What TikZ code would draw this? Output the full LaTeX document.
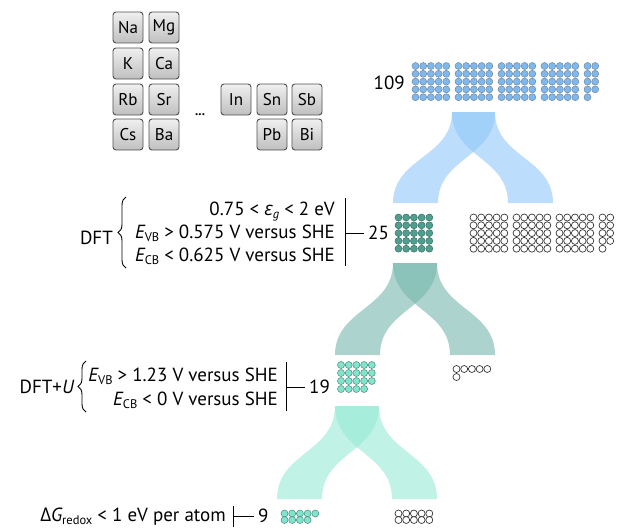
\documentclass[tikz,border=0pt]{standalone}
\usepackage{fontspec}
\setmainfont{PT Sans}
\newfontfamily\grk{Open Sans}
\usetikzlibrary{calc,decorations.pathreplacing}

% colours
\definecolor{tileedge}{RGB}{80,80,80}
\definecolor{bluedotfill}{RGB}{125,185,238}
\definecolor{bluedotedge}{RGB}{115,135,158}
\definecolor{tealdotfill}{RGB}{80,158,142}
\definecolor{tealdotedge}{RGB}{55,115,103}
\definecolor{mintdotfill}{RGB}{130,228,204}
\definecolor{mintdotedge}{RGB}{70,140,125}
\definecolor{hollowedge}{RGB}{55,55,55}
\definecolor{blueband}{RGB}{143,199,248}
\definecolor{tealband}{RGB}{117,182,172}
\definecolor{mintband}{RGB}{150,233,213}

% a subscript in small upright type
\newcommand\lowsub[1]{\raisebox{-0.35ex}{\fontsize{12.5}{12.5}\selectfont #1}}

% blocks of 5x5 dots, filled column by column
% #1 x of first centre, #2 y of first centre, #3 count, #4 style
\newcommand\dotblocks[4]{%
  \pgfmathtruncatemacro\lastdot{#3-1}%
  \foreach \i in {0,...,\lastdot}{%
    \pgfmathtruncatemacro\blk{int(\i/25)}%
    \pgfmathtruncatemacro\rem{mod(\i,25)}%
    \pgfmathtruncatemacro\col{int(\rem/5)}%
    \pgfmathtruncatemacro\row{mod(\rem,5)}%
    \path[#4] (#1+\blk*43+\col*7.7, #2+\row*7.8) circle (3.5pt);
  }}
% rows of five dots, filled row by row
% #1 x, #2 y of first centre, #3 count, #4 style, #5 row pitch
\newcommand\dotrows[5]{%
  \pgfmathtruncatemacro\lastdot{#3-1}%
  \foreach \i in {0,...,\lastdot}{%
    \pgfmathtruncatemacro\col{mod(\i,5)}%
    \pgfmathtruncatemacro\row{int(\i/5)}%
    \path[#4] (#1+\col*7.7, #2+\row*#5) circle (3.5pt);
  }}
% one ribbon: #1 style, #2 top y, #3 #4 top x range, #5 bottom y, #6 #7 bottom x range
\newcommand\ribbon[7]{%
  \pgfmathsetmacro\ymid{(#2+#5)/2}%
  \fill[#1] (#3,#2) .. controls (#3,\ymid) and (#6,\ymid) .. (#6,#5)
     -- (#7,#5) .. controls (#7,\ymid) and (#4,\ymid) .. (#4,#2) -- cycle;}

\begin{document}
\begin{tikzpicture}[x=1pt,y=-1pt,
  tile/.style={draw=tileedge, line width=0.9pt, rounded corners=3pt,
    top color=gray!12, bottom color=gray!50, minimum width=30pt,
    minimum height=31pt, inner sep=0pt, font=\fontsize{17}{17}\selectfont},
  lbl/.style={inner sep=0pt, font=\fontsize{19}{22}\selectfont},
  num/.style={inner sep=0pt, anchor=west, font=\fontsize{19}{22}\selectfont},
  rule/.style={line width=0.8pt, black},
  curly/.style={decorate, decoration={brace, amplitude=8pt}, line width=0.9pt},
  bluedot/.style={fill=bluedotfill, draw=bluedotedge, line width=0.5pt},
  tealdot/.style={fill=tealdotfill, draw=tealdotedge, line width=0.5pt},
  mintdot/.style={fill=mintdotfill, draw=mintdotedge, line width=0.5pt},
  hollowdot/.style={fill=white, draw=hollowedge, line width=0.7pt},
  ribbonblue/.style={fill=blueband, fill opacity=0.6},
  ribbonteal/.style={fill=tealband, fill opacity=0.6},
  ribbonmint/.style={fill=mintband, fill opacity=0.6},
]
\useasboundingbox (0,0) rectangle (617,527);

% element tiles
\node[tile] (Na) at (128,27.5)  {Na};
\node[tile] (Mg) at (164,27.5)  {Mg};
\node[tile] (K)  at (128,63.5)  {K};
\node[tile] (Ca) at (164,63.5)  {Ca};
\node[tile] (Rb) at (128,99.5)  {Rb};
\node[tile] (Sr) at (164,99.5)  {Sr};
\node[tile] (Cs) at (128,134.5) {Cs};
\node[tile] (Ba) at (164,134.5) {Ba};
\node[tile] (In) at (236,99.5)  {In};
\node[tile] (Sn) at (272,99.5)  {Sn};
\node[tile] (Sb) at (307,99.5)  {Sb};
\node[tile] (Pb) at (272,134.5) {Pb};
\node[tile] (Bi) at (307,134.5) {Bi};
\node[inner sep=0pt, font=\fontsize{13}{13}\selectfont\bfseries] (ell) at (200,115) {...};

% ribbons
\ribbon{ribbonblue}{112}{452}{495}{203}{393}{438}
\ribbon{ribbonblue}{112}{452}{495}{203}{508}{553}
\ribbon{ribbonteal}{263}{393}{437}{355}{335}{380}
\ribbon{ribbonteal}{263}{393}{437}{355}{450}{495}
\ribbon{ribbonmint}{406}{335}{379}{499}{277}{322}
\ribbon{ribbonmint}{406}{335}{379}{499}{392}{437}

% 109 candidates
\node[num, anchor=east] (n109) at (405,83) {109};
\dotblocks{415.5}{66}{109}{bluedot}

% DFT screening
\node[lbl, anchor=base east] (c1) at (335,215) {0.75 < {\grk\itshape ε}\lowsub{\itshape g} < 2 eV};
\node[lbl, anchor=base east] (c2) at (335,238) {{\itshape E}\lowsub{VB} > 0.575 V versus SHE};
\node[lbl, anchor=base east] (c3) at (335,261) {{\itshape E}\lowsub{CB} < 0.625 V versus SHE};
\coordinate (br1b) at (126,268);
\coordinate (br1t) at (126,197);
\draw[curly] (br1b) -- (br1t);
\node[lbl, anchor=east] (dft) at (113,238) {DFT};
\coordinate (b1t) at (345,198);
\coordinate (b1b) at (345,266);
\coordinate (b1m) at (345,233);
\draw[rule] (b1t) -- (b1b);
\node[num] (n25) at (368,233) {25};
\draw[rule] (b1m) -- ([xshift=-4pt]n25.west);
\dotblocks{398.5}{217.5}{25}{tealdot}
\dotblocks{473.5}{217.5}{84}{hollowdot}

% DFT+U screening
\node[lbl, anchor=base east] (d1) at (278,381) {{\itshape E}\lowsub{VB} > 1.23 V versus SHE};
\node[lbl, anchor=base east] (d2) at (278,405) {{\itshape E}\lowsub{CB} < 0 V versus SHE};
\coordinate (br2b) at (86,412);
\coordinate (br2t) at (86,361);
\draw[curly] (br2b) -- (br2t);
\node[lbl, anchor=east] (dftu) at (74,387) {DFT+{\itshape U}};
\coordinate (b2t) at (286,362);
\coordinate (b2b) at (286,411);
\coordinate (b2m) at (286,387);
\draw[rule] (b2t) -- (b2b);
\node[num] (n19) at (309,387) {19};
\draw[rule] (b2m) -- ([xshift=-4pt]n19.west);
\dotrows{341}{365}{19}{mintdot}{8}
\dotrows{456.5}{369}{6}{hollowdot}{8}

% redox screening
\node[lbl, anchor=base east] (e1) at (226,521.5) {{\grk Δ}{\itshape G}\lowsub{redox} < 1 eV per atom};
\coordinate (b3t) at (233,506);
\coordinate (b3b) at (233,527);
\coordinate (b3m) at (233,516);
\draw[rule] (b3t) -- (b3b);
\node[num] (n9) at (258,516) {9};
\draw[rule] (b3m) -- ([xshift=-4pt]n9.west);
\dotrows{284.5}{513.5}{9}{mintdot}{6.5}
\dotrows{398.5}{513.5}{10}{hollowdot}{6.5}
\end{tikzpicture}
\end{document}
